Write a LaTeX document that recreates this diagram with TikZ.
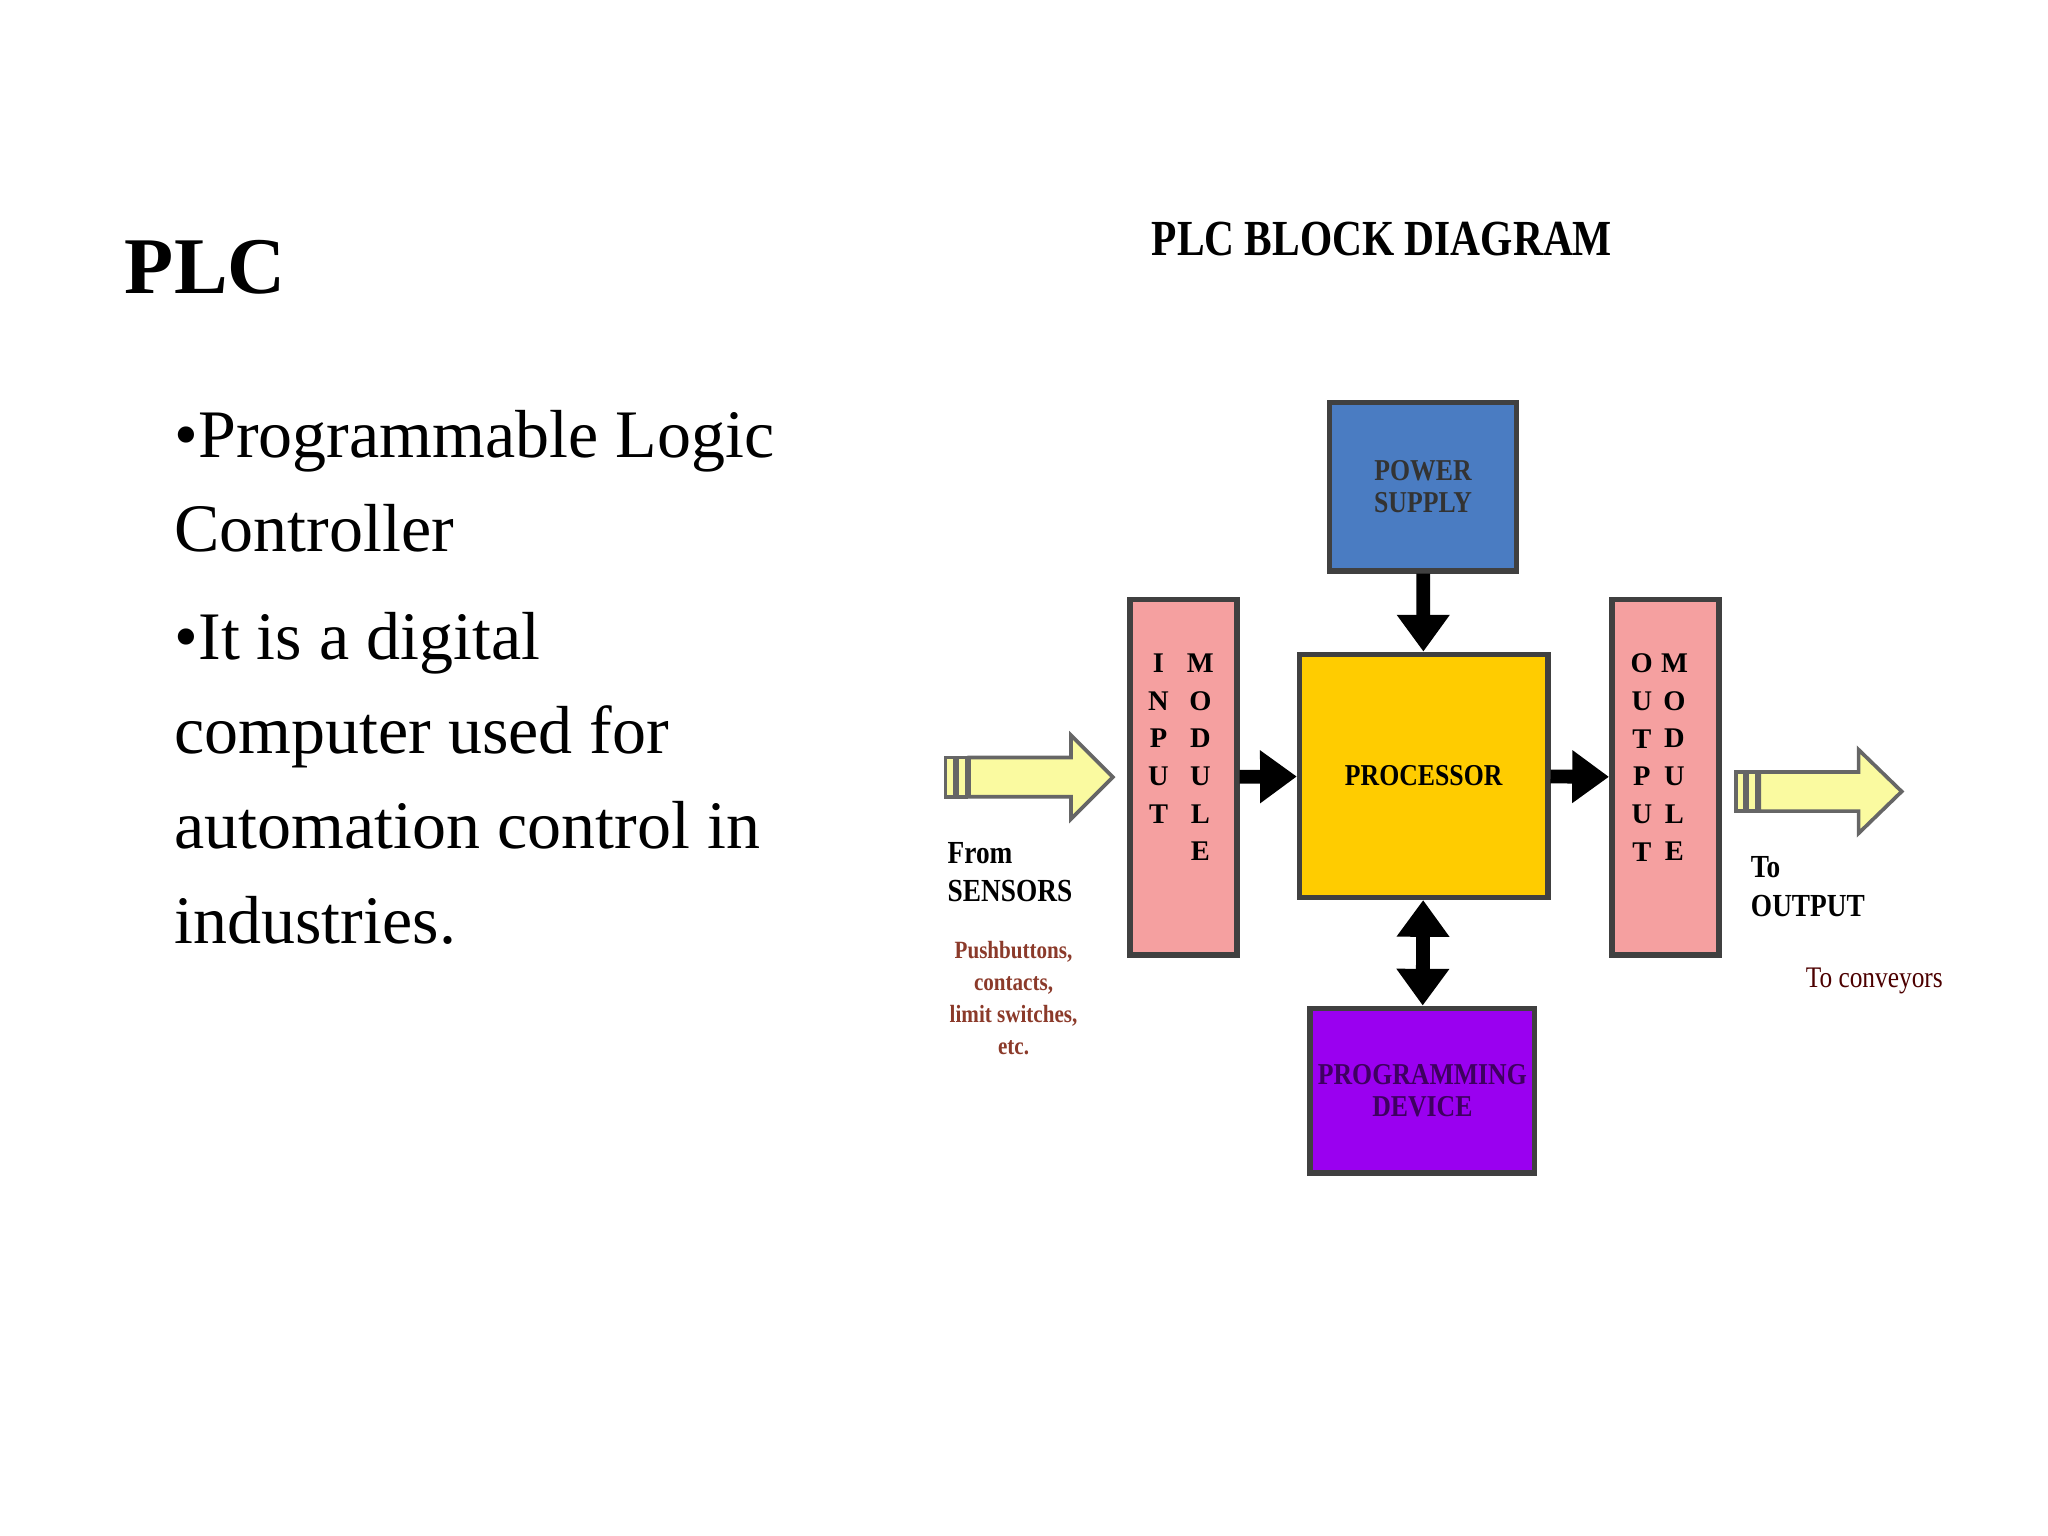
\documentclass[tikz,border=0pt]{standalone}
\usepackage{fontspec}
\setmainfont{Liberation Serif}
\usetikzlibrary{arrows.meta}
\definecolor{pwr}{HTML}{4A7CC2}
\definecolor{proc}{HTML}{FFCC00}
\definecolor{pinkm}{HTML}{F5A0A0}
\definecolor{purp}{HTML}{9A00F0}
\definecolor{yel}{HTML}{FAFAA0}
\definecolor{brn}{HTML}{8B3A2A}
\begin{document}
\begin{tikzpicture}[x=0.01cm,y=-0.01cm,
 box/.style={draw=black!75,line width=1.2pt},
 lbl/.style={font=\fontsize{6.6}{8}\selectfont\bfseries,align=center,xscale=0.85},
 col/.style={font=\fontsize{6.2}{8.2}\selectfont\bfseries,align=center,anchor=north,inner sep=0pt},
 body/.style={anchor=base west,inner sep=0pt,font=\fontsize{14.8}{18}\selectfont},
 thick arrow/.style={line width=3pt,-{Triangle[length=8pt,width=11pt]}},
 big/.style={draw=black!60,fill=yel,line width=0.8pt}]
\useasboundingbox (0,0) rectangle (1568,1176);
\node[anchor=base west,inner sep=0pt,font=\fontsize{17.5}{20}\selectfont\bfseries] (t) at (95,225) {PLC};
\node[body] (l1) at (133,350) {•Programmable Logic};
\node[body] (l2) at (133,422) {Controller};
\node[body] (l3) at (133,505) {•It is a digital};
\node[body] (l4) at (133,577) {computer used for};
\node[body] (l5) at (133,650) {automation control in};
\node[body] (l6) at (133,722) {industries.};
\node[font=\fontsize{11}{13}\selectfont\bfseries,xscale=0.82] (dt) at (1058,183) {PLC BLOCK DIAGRAM};
% boxes
\node[box,fill=pwr,minimum width=143*0.01cm,minimum height=129*0.01cm] (ps) at (1089.5,372.5) {};
\node[lbl,text=black!80] at (ps) {POWER\\[-1pt]SUPPLY};
\node[box,fill=proc,minimum width=190*0.01cm,minimum height=186*0.01cm] (pr) at (1090,594) {};
\node[lbl] at (pr) {PROCESSOR};
\node[box,fill=pinkm,minimum width=82*0.01cm,minimum height=272*0.01cm] (im) at (906,595) {};
\node[box,fill=pinkm,minimum width=82*0.01cm,minimum height=272*0.01cm] (om) at (1275,595) {};
\node[box,fill=purp,minimum width=172*0.01cm,minimum height=126*0.01cm] (pd) at (1089,835) {};
\node[lbl,text=purp!40!black] at (pd) {PROGRAMMING\\[-1pt]DEVICE};
\node[col] (c1) at (887,500) {I\\N\\P\\U\\T};
\node[col] (c2) at (919,500) {M\\O\\D\\U\\L\\E};
\node[col] (c3) at (1257,500) {O\\U\\T\\P\\U\\T};
\node[col] (c4) at (1282,500) {M\\O\\D\\U\\L\\E};
% arrows
\draw[thick arrow] (ps) -- (pr);
\draw[thick arrow] (im) -- (pr);
\draw[thick arrow] (pr) -- (om);
\draw[line width=3pt,{Triangle[length=8pt,width=11pt]}-{Triangle[length=8pt,width=11pt]}] (pr) -- (pd);
% big arrows
\draw[big] (724,580) rectangle (731,610);
\draw[big] (733,580) rectangle (740,610);
\draw[big] (742,580) -- (820,580) -- (820,563) -- (852,595) -- (820,627) -- (820,610) -- (742,610) -- cycle;
\draw[big] (1329,591) rectangle (1336,621);
\draw[big] (1338,591) rectangle (1345,621);
\draw[big] (1347,591) -- (1423,591) -- (1423,574) -- (1456,606) -- (1423,638) -- (1423,621) -- (1347,621) -- cycle;
% texts
\node[anchor=north west,align=left,inner sep=0pt,xscale=0.85,font=\fontsize{7}{8.4}\selectfont\bfseries] (fs) at (725,644) {From\\SENSORS};
\node[align=center,text=brn,font=\fontsize{5.4}{7}\selectfont\bfseries,xscale=0.85] (pb) at (776,764) {Pushbuttons,\\contacts,\\limit switches,\\etc.};
\node[anchor=north west,align=left,inner sep=0pt,xscale=0.85,font=\fontsize{7}{8.4}\selectfont\bfseries] (to) at (1340,655) {To\\OUTPUT};
\node[text=black!70!red,font=\fontsize{6.5}{8}\selectfont,xscale=0.85] (tc) at (1435,751) {To conveyors};
\end{tikzpicture}
\end{document}
